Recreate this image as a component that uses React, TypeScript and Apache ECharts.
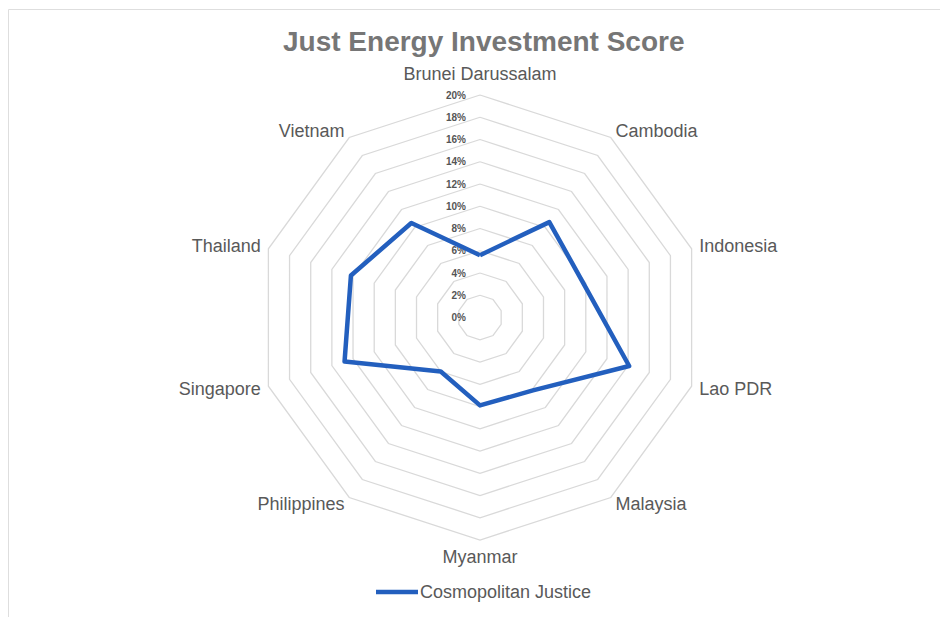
import React, { useEffect, useRef } from "react";
import * as echarts from "echarts";

const categories = [
  "Brunei Darussalam",
  "Cambodia",
  "Indonesia",
  "Lao PDR",
  "Malaysia",
  "Myanmar",
  "Philippines",
  "Singapore",
  "Thailand",
  "Vietnam",
];
const seriesName = "Cosmopolitan Justice";
const values = [5.6, 10.6, 9.8, 14.1, 8.1, 7.9, 6.0, 12.8, 12.2, 10.5];
const axisMax = 20;
const axisSplits = 10;

const FONT = "Liberation Sans, Arial, Helvetica, sans-serif";

export default function App() {
  const ref = useRef<HTMLDivElement>(null);
  useEffect(() => {
    if (!ref.current) return;
    const chart = echarts.init(ref.current, undefined, { renderer: "svg" });
    // ECharts places radar indicators counter-clockwise; reference is clockwise.
    const order = [0, ...Array.from({ length: categories.length - 1 }, (_, i) => categories.length - 1 - i)];
    const indicator = order.map((idx, k) => ({
      name: categories[idx],
      max: axisMax,
      min: 0,
      ...(k === 0
        ? {
            axisLabel: {
              show: true,
              formatter: (v: number) => `${v}%`,
              fontSize: 10,
              fontWeight: "bold",
              color: "#555555",
              fontFamily: FONT,
              margin: 14,
            },
          }
        : {}),
    }));
    const ordered = order.map((idx) => values[idx]);
    chart.setOption({
      animation: false,
      backgroundColor: "#ffffff",
      title: {
        text: "Just Energy Investment Score",
        left: 278,
        top: 22,
        textStyle: {
          fontSize: 28,
          fontWeight: "bold",
          color: "#767676",
          fontFamily: FONT,
        },
      },
      legend: {
        top: 578,
        left: 371,
        itemWidth: 42,
        itemHeight: 4.5,
        icon: "rect",
        itemGap: 10,
        itemStyle: { color: "#235FBE" },
        textStyle: {
          fontSize: 18,
          color: "#595959",
          fontFamily: FONT,
          padding: [0, 0, 0, -3],
        },
        data: [seriesName],
      },
      graphic: [
        {
          type: "line",
          shape: { x1: 8.5, y1: 9.5, x2: 940, y2: 9.5 },
          style: { stroke: "#dedede", lineWidth: 1 },
        },
        {
          type: "line",
          shape: { x1: 8.5, y1: 9.5, x2: 8.5, y2: 617 },
          style: { stroke: "#dedede", lineWidth: 1 },
        },
      ],
      radar: {
        center: [480, 317.5],
        radius: 222.5,
        startAngle: 90,
        splitNumber: axisSplits,
        shape: "polygon",
        nameGap: 8,
        axisName: {
          color: "#595959",
          fontSize: 18,
          fontFamily: FONT,
          formatter: (name: string) =>
            name === categories[0] ? `{top|${name}}` : name,
          rich: {
            top: {
              color: "#595959",
              fontSize: 18,
              fontFamily: FONT,
              padding: [0, 0, 4, 0],
            },
          },
        },
        axisLine: { show: false },
        axisTick: { show: false },
        axisLabel: { show: false },
        splitArea: { show: false },
        splitLine: { lineStyle: { color: "#d9d9d9", width: 1.3 } },
        indicator,
      },
      series: [
        {
          type: "radar",
          name: seriesName,
          symbol: "none",
          lineStyle: { color: "#235FBE", width: 4.5 },
          itemStyle: { color: "#235FBE" },
          data: [{ name: seriesName, value: ordered }],
        },
      ],
    });
    return () => chart.dispose();
  }, []);
  return (
    <div
      ref={ref}
      style={{ position: "fixed", left: 0, top: 0, width: 940, height: 617 }}
    />
  );
}
